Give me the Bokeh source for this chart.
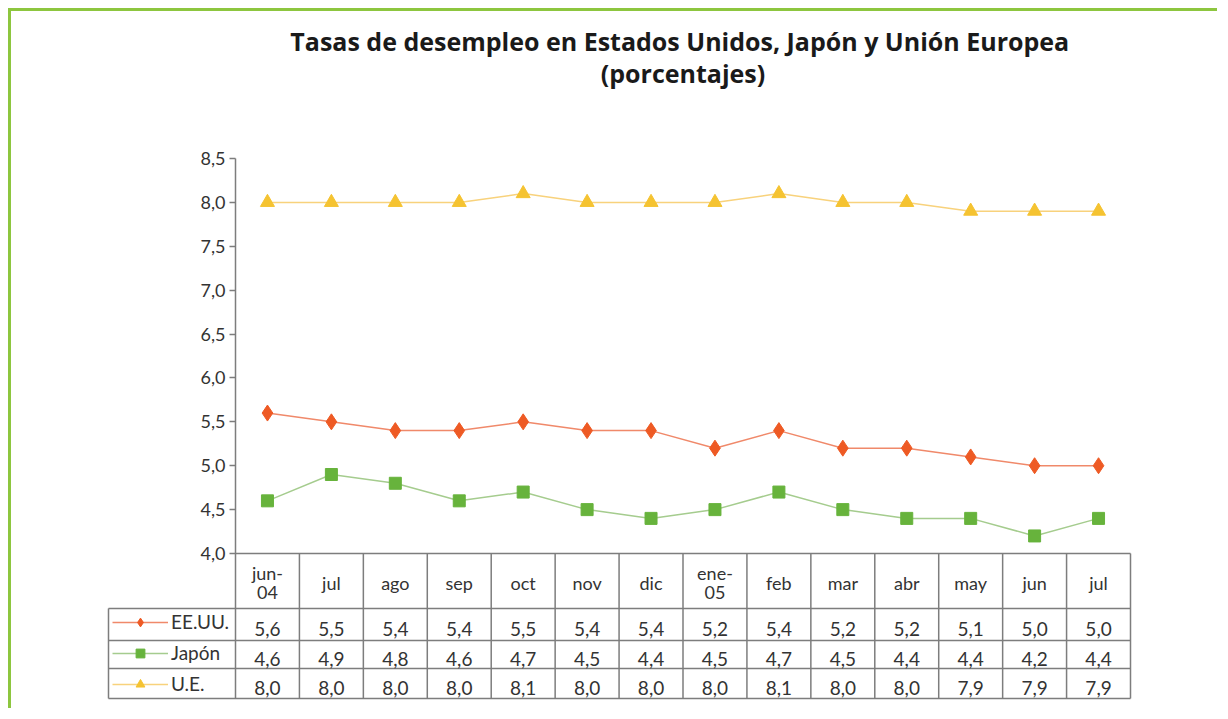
from bokeh.plotting import figure
from bokeh.models import Range1d, FixedTicker, Label, Legend, LegendItem
from bokeh.embed import file_html
from bokeh.resources import INLINE
from bokeh.core.properties import value

# ---------------- data ----------------
categories = ["jun-\n04", "jul", "ago", "sep", "oct", "nov", "dic",
              "ene-\n05", "feb", "mar", "abr", "may", "jun", "jul"]
eeuu = [5.6, 5.5, 5.4, 5.4, 5.5, 5.4, 5.4, 5.2, 5.4, 5.2, 5.2, 5.1, 5.0, 5.0]
japon = [4.6, 4.9, 4.8, 4.6, 4.7, 4.5, 4.4, 4.5, 4.7, 4.5, 4.4, 4.4, 4.2, 4.4]
ue = [8.0, 8.0, 8.0, 8.0, 8.1, 8.0, 8.0, 8.0, 8.1, 8.0, 8.0, 7.9, 7.9, 7.9]
series_names = ["EE.UU.", "Japón", "U.E."]
y_ticks = [4.0, 4.5, 5.0, 5.5, 6.0, 6.5, 7.0, 7.5, 8.0, 8.5]
y_tick_labels = ["4,0", "4,5", "5,0", "5,5", "6,0", "6,5", "7,0", "7,5", "8,0", "8,5"]
title_lines = ["Tasas de desempleo en Estados Unidos,  Japón y Unión Europea",
               "(porcentajes)"]

# ---------------- layout ----------------
W, H = 1209, 700
Y_MIN, Y_MAX = 4.0, 8.5
PX = 895 / 14.0            # pixels per category column
PY = 395 / (Y_MAX - Y_MIN)  # pixels per y unit
LEG_W = 127                 # legend column width (px)
ROW_PX = [0, 55, 87, 115, 145]  # table row boundaries below the 4,0 line (px)

def ypx(d):
    return Y_MIN - d / PY

xs = list(range(len(categories)))
x_left = -0.5 - LEG_W / PX
x_right = len(categories) - 0.5
rows = [ypx(d) for d in ROW_PX]

FONT = "Lato"
TXT = "#333333"
GRID = "#7d7d7d"

p = figure(width=W, height=H,
           x_range=Range1d(x_left - 2 / PX, x_right + 2 / PX),
           y_range=Range1d(ypx(147), Y_MAX + 144 / PY),
           output_backend="svg", toolbar_location=None,
           x_axis_location=None, y_axis_location="left",
           min_border_left=95, min_border_right=88,
           min_border_top=3, min_border_bottom=11)
p.styles = {"margin-top": "8px", "margin-left": "8px",
            "border-top": "3px solid #8dc63f", "border-left": "3px solid #8dc63f"}
p.outline_line_color = None
p.xgrid.visible = False
p.ygrid.visible = False
p.background_fill_color = "white"
p.border_fill_color = "white"

ax = p.yaxis[0]
ax.fixed_location = -0.5
ax.bounds = (rows[-1], Y_MAX)
ax.ticker = FixedTicker(ticks=y_ticks, minor_ticks=[])
ax.major_label_overrides = {t: l for t, l in zip(y_ticks, y_tick_labels)}
ax.axis_line_color = GRID
ax.axis_line_width = 1.5
ax.major_tick_line_color = GRID
ax.major_tick_line_width = 1.5
ax.major_tick_out = 6
ax.major_tick_in = 0
ax.minor_tick_line_color = None
ax.major_label_standoff = 4
ax.major_label_text_font = FONT
ax.major_label_text_font_size = "18px"
ax.major_label_text_color = TXT

# ---------------- table grid ----------------
hx0 = [-0.5] + [x_left] * 4
hx1 = [x_right] * 5
p.segment(x0=hx0, y0=rows, x1=hx1, y1=rows, line_color=GRID, line_width=1.5)
vx = [x_left] + [i + 0.5 for i in xs]
vy0 = [rows[1]] + [rows[0]] * len(xs)
vy1 = [rows[-1]] * (len(xs) + 1)
p.segment(x0=vx, y0=vy0, x1=vx, y1=vy1, line_color=GRID, line_width=1.5)

# header labels
p.text(x=xs, y=[ypx(29)] * len(xs), text=categories,
       text_align="center", text_baseline="middle",
       text_font=value(FONT), text_font_size="18px", text_color=TXT,
       text_line_height=0.9)

# ---------------- series ----------------
styles = [
    (eeuu, "#f0896a", "#ee5a24", "diamond", 16),
    (japon, "#a5cc8e", "#67b33c", "square", 12),
    (ue, "#f8d27c", "#f5c331", "triangle", 14),
]
items = []
for (vals, lc, mc, mk, sz), name, ri in zip(styles, series_names, range(3)):
    lr = p.line(xs, vals, line_color=lc, line_width=1.5)
    sr = p.scatter(xs, vals, marker=mk, size=sz, fill_color=mc, line_color=mc)
    items.append(LegendItem(label=name, renderers=[lr, sr]))
    yc = ypx((ROW_PX[ri + 1] + ROW_PX[ri + 2]) / 2 + 4)
    p.text(x=xs, y=[yc] * len(xs),
           text=[f"{v:.1f}".replace(".", ",") for v in vals],
           text_align="center", text_baseline="middle",
           text_font=value(FONT), text_font_size="19px", text_color=TXT)

legend = Legend(items=items, location=(6, 5), orientation="vertical",
                glyph_width=56, glyph_height=22, label_height=22, spacing=8,
                padding=0, margin=0, label_standoff=3,
                border_line_color=None, background_fill_alpha=0,
                label_text_font=FONT, label_text_font_size="19px",
                label_text_color=TXT)
p.add_layout(legend)

# ---------------- title ----------------
for line, dy in zip(title_lines, [118, 86]):
    p.add_layout(Label(x=(len(categories) - 1) / 2, y=Y_MAX + dy / PY, text=line,
                       text_align="center", text_baseline="middle",
                       text_font="Open Sans", text_font_style="bold",
                       text_font_size="25px", text_color="#1a1a1a"))

open("out.html", "w").write(file_html(p, INLINE))
